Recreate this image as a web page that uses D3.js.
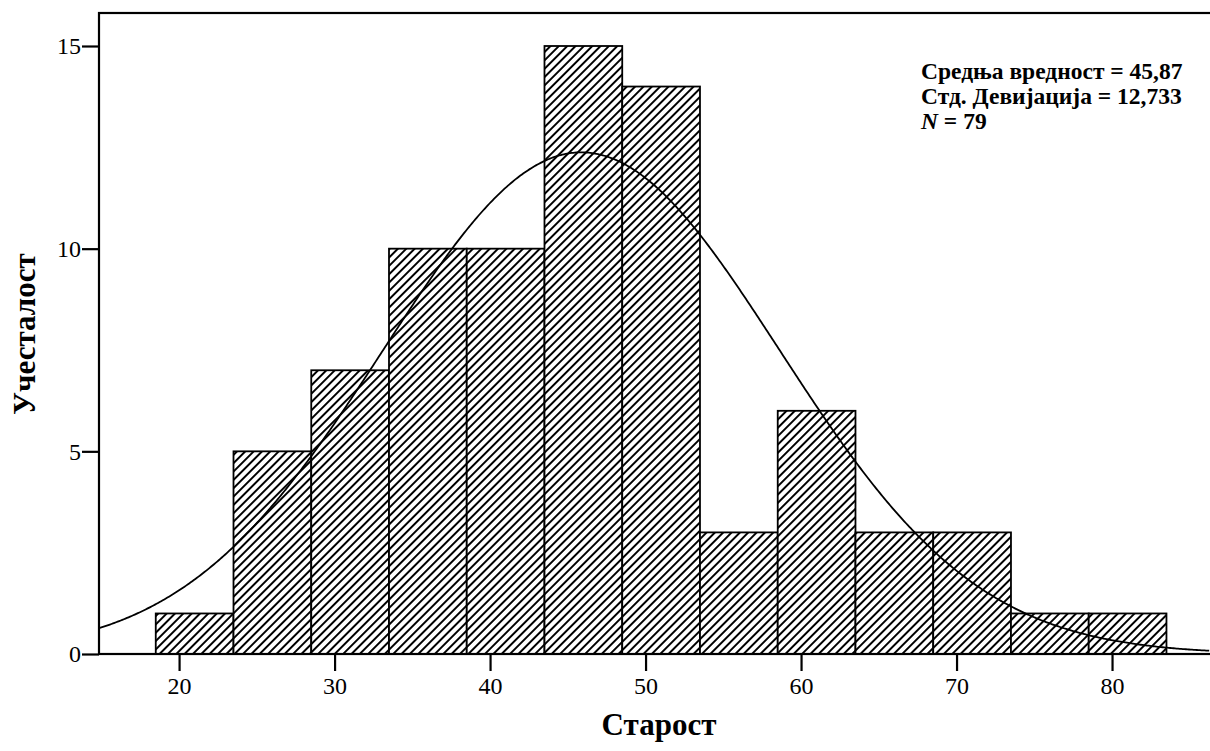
<!DOCTYPE html>
<html>
<head>
<meta charset="utf-8">
<script src="https://cdn.jsdelivr.net/npm/d3@7"></script>
<style>
html,body{margin:0;padding:0;background:#fff;}
svg{display:block;}
text{font-family:"Liberation Serif","Times New Roman",serif;fill:#000;}
</style>
</head>
<body>
<svg id="chart" width="1210" height="751"></svg>
<script>
// Data
const binStarts = [18.5, 23.5, 28.5, 33.5, 38.5, 43.5, 48.5, 53.5, 58.5, 63.5, 68.5, 73.5, 78.5];
const binWidth = 5;
const counts = [1, 5, 7, 10, 10, 15, 14, 3, 6, 3, 3, 1, 1];
const xTicks = [20, 30, 40, 50, 60, 70, 80];
const yTicks = [0, 5, 10, 15];
const meanVal = 45.87;
const sdVal = 12.733;
const nVal = 79;
const statLines = ["Средња вредност = 45,87", "Стд. Девијација = 12,733", "= 79"];
const xTitle = "Старост";
const yTitle = "Учесталост";

(function () {
const svg = d3.select("#chart");
const pLeft = 99, pTop = 13, pBottom = 654, pRight = 1216;

const x = d3.scaleLinear().domain([14.85, 86.3]).range([99, 1210]);
const y = d3.scaleLinear().domain([0, 15]).range([654, 46]);

// hatch pattern
const defs = svg.append("defs");
const pw = 5.9;
const pat = defs.append("pattern")
  .attr("id", "hatch")
  .attr("patternUnits", "userSpaceOnUse")
  .attr("width", pw).attr("height", pw)
  .attr("patternTransform", "rotate(45)");
pat.append("rect").attr("width", pw).attr("height", pw).attr("fill", "#fff");
pat.append("line").attr("x1", pw / 2).attr("y1", 0).attr("x2", pw / 2).attr("y2", pw)
  .attr("stroke", "#000").attr("stroke-width", 2.0);

defs.append("clipPath").attr("id", "plotclip")
  .append("rect").attr("x", pLeft).attr("y", pTop).attr("width", pRight - pLeft).attr("height", pBottom - pTop);

// bars
svg.append("g").selectAll("rect").data(counts).join("rect")
  .attr("x", (d, i) => x(binStarts[i]))
  .attr("y", d => y(d))
  .attr("width", (d, i) => x(binStarts[i] + binWidth) - x(binStarts[i]))
  .attr("height", d => y(0) - y(d))
  .attr("fill", "url(#hatch)")
  .attr("stroke", "#000")
  .attr("stroke-width", 1.8);

// normal curve from the displayed mean / sd / N
const curvePts = d3.range(14.85, 86.31, 0.1).map(v => {
  const z = (v - meanVal) / sdVal;
  return [v, nVal * binWidth / (sdVal * Math.sqrt(2 * Math.PI)) * Math.exp(-0.5 * z * z)];
});
svg.append("path")
  .datum(curvePts)
  .attr("clip-path", "url(#plotclip)")
  .attr("fill", "none")
  .attr("stroke", "#000")
  .attr("stroke-width", 1.8)
  .attr("d", d3.line().x(d => x(d[0])).y(d => y(d[1])));

// frame
svg.append("rect")
  .attr("x", pLeft).attr("y", pTop)
  .attr("width", pRight - pLeft).attr("height", pBottom - pTop)
  .attr("fill", "none").attr("stroke", "#000").attr("stroke-width", 2.2);

// axes
const xAxis = svg.append("g").attr("transform", `translate(0,${pBottom})`)
  .call(d3.axisBottom(x).tickValues(xTicks).tickSize(17).tickPadding(6).tickFormat(d3.format("d")));
xAxis.select(".domain").remove();
xAxis.selectAll(".tick line").attr("stroke", "#000").attr("stroke-width", 2.2);
xAxis.selectAll(".tick text").style("font-size", "24px").attr("font-family", "Liberation Serif");

const yAxis = svg.append("g").attr("transform", `translate(${pLeft},0)`)
  .call(d3.axisLeft(y).tickValues(yTicks).tickSize(17).tickPadding(1).tickFormat(d3.format("d")));
yAxis.select(".domain").remove();
yAxis.selectAll(".tick line").attr("stroke", "#000").attr("stroke-width", 2.2);
yAxis.selectAll(".tick text").style("font-size", "24px").attr("font-family", "Liberation Serif");

// titles
svg.append("text").attr("x", 659).attr("y", 735)
  .attr("text-anchor", "middle").style("font-size", "31px").style("font-weight", "bold")
  .text(xTitle);
svg.append("text").attr("transform", "translate(35,334) rotate(-90)")
  .attr("text-anchor", "middle").style("font-size", "31px").style("font-weight", "bold")
  .text(yTitle);

// stats box
const st = svg.append("g").style("font-size", "23.5px").style("font-weight", "bold");
st.append("text").attr("x", 921).attr("y", 79).text(statLines[0]);
st.append("text").attr("x", 921).attr("y", 104).text(statLines[1]);
const t3 = st.append("text").attr("x", 921).attr("y", 129);
t3.append("tspan").style("font-style", "italic").text("N");
t3.append("tspan").text(" " + statLines[2]);
})();
</script>
</body>
</html>
